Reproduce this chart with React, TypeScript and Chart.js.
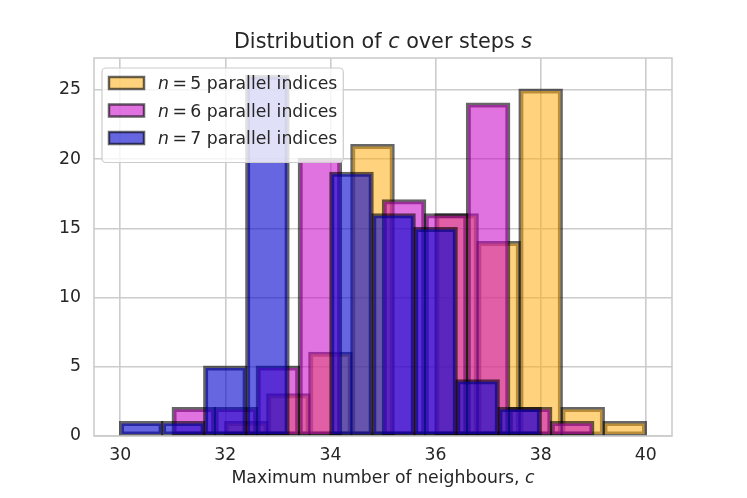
import { useEffect, useRef } from "react";
import { Chart, registerables } from "chart.js";

Chart.register(...registerables);

// observed max-neighbour values c and how many steps hit each one
const neighbourValuesN5 = [32, 33, 34, 35, 36, 37, 38, 39, 40];
const stepCountsN5 = [1, 3, 6, 21, 16, 14, 25, 2, 1];
const neighbourValuesN6 = [31, 32, 33, 34, 35, 36, 37, 38, 39];
const stepCountsN6 = [2, 2, 5, 20, 17, 16, 24, 2, 1];
const neighbourValuesN7 = [30, 31, 32, 33, 34, 35, 36, 37, 38];
const stepCountsN7 = [1, 1, 5, 26, 19, 16, 15, 4, 2];
const parallelIndices = ["5", "6", "7"];

const binCount = 10;
const xTickStep = 2;
const yTickStep = 5;

const FONT = "'DejaVu Sans'";
const TEXT = "#262626";
const GRID = "#cccccc";
const EDGE = "rgba(0, 0, 0, 0.6)";
const fills = ["rgba(255, 175, 20, 0.55)", "rgba(200, 0, 200, 0.55)", "rgba(0, 0, 205, 0.6)"];

// same binning as matplotlib's hist: 10 equal bins between min and max
const histogram = (values: number[], counts: number[]) => {
  const lo = Math.min(...values);
  const hi = Math.max(...values);
  const width = (hi - lo) / binCount;
  const bins = new Array(binCount).fill(0);
  values.forEach((v, i) => {
    const k = Math.min(Math.floor(((v - lo) * binCount) / (hi - lo) + 1e-9), binCount - 1);
    bins[k] += counts[i];
  });
  return bins.map((c, k) => ({ x: lo + (k + 0.5) * width, y: c })).filter((p) => p.y > 0);
};

type Part = [string, boolean];

const drawRich = (ctx: CanvasRenderingContext2D, parts: Part[], x: number, y: number, size: number, center: boolean) => {
  const fontOf = (it: boolean) => `${it ? "italic " : ""}${size}px ${FONT}`;
  let total = 0;
  parts.forEach(([t, it]) => {
    ctx.font = fontOf(it);
    total += ctx.measureText(t).width;
  });
  let cx = center ? x - total / 2 : x;
  ctx.textAlign = "left";
  ctx.textBaseline = "alphabetic";
  ctx.fillStyle = TEXT;
  parts.forEach(([t, it]) => {
    ctx.font = fontOf(it);
    ctx.fillText(t, cx, y);
    cx += ctx.measureText(t).width;
  });
  return total;
};

const decorPlugin = {
  id: "decor",
  afterDatasetsDraw(chart: any) {
    const { ctx, chartArea: a } = chart;
    ctx.save();
    // axes frame
    ctx.strokeStyle = GRID;
    ctx.lineWidth = 1.6;
    ctx.strokeRect(a.left, a.top, a.right - a.left, a.bottom - a.top);

    // legend
    const size = 17.3;
    const x0 = a.left + 8;
    const y0 = a.top + 10;
    const rowH = 27.5;
    ctx.font = `${size}px ${FONT}`;
    const textW = ctx.measureText("n\u2009=\u20095 parallel indices").width;
    const w = 56 + textW + 6;
    const h = 16 + rowH * parallelIndices.length - 4;
    ctx.beginPath();
    ctx.roundRect(x0, y0, w, h, 4);
    ctx.fillStyle = "rgba(255, 255, 255, 0.8)";
    ctx.fill();
    ctx.strokeStyle = GRID;
    ctx.lineWidth = 1.2;
    ctx.stroke();
    parallelIndices.forEach((n, i) => {
      const cy = y0 + 15 + i * rowH;
      ctx.fillStyle = fills[i];
      ctx.fillRect(x0 + 7, cy - 6, 35, 12);
      ctx.strokeStyle = EDGE;
      ctx.lineWidth = 2.5;
      ctx.strokeRect(x0 + 7, cy - 6, 35, 12);
      drawRich(ctx, [["n", true], [`\u2009=\u2009${n} parallel indices`, false]], x0 + 56, cy + 6, size, false);
    });

    // title and x label
    const mid = (a.left + a.right) / 2;
    drawRich(ctx, [["Distribution of ", false], ["c", true], [" over steps ", false], ["s", true]], mid, a.top - 10, 20.75, true);
    drawRich(ctx, [["Maximum number of neighbours, ", false], ["c", true]], mid, a.bottom + 47, 17.3, true);
    ctx.restore();
  },
};

const App = () => {
  const chartRef = useRef<HTMLCanvasElement | null>(null);

  useEffect(() => {
    document.body.style.margin = "0";
    if (!chartRef.current) return;

    const allValues = [...neighbourValuesN5, ...neighbourValuesN6, ...neighbourValuesN7];
    const lo = Math.min(...allValues);
    const hi = Math.max(...allValues);
    const xMin = lo - (hi - lo) * 0.05;
    const xMax = hi + (hi - lo) * 0.05;
    const allCounts = [
      ...histogram(neighbourValuesN5, stepCountsN5),
      ...histogram(neighbourValuesN6, stepCountsN6),
      ...histogram(neighbourValuesN7, stepCountsN7),
    ].map((p) => p.y);
    const yMax = Math.max(...allCounts) * 1.05;

    const xAxis = (display: boolean) => ({
      type: "linear" as const,
      display,
      min: xMin,
      max: xMax,
      offset: false,
      border: { display: false },
      grid: { color: GRID, lineWidth: 1.6, drawTicks: false, offset: false },
      ticks: {
        stepSize: xTickStep,
        includeBounds: false,
        padding: 9,
        color: TEXT,
        font: { family: FONT, size: 17.3 },
      },
      afterFit: (s: any) => {
        if (display) s.height = 62;
      },
    });

    const bar = (i: number, data: { x: number; y: number }[], axis: string) => ({
      label: `n = ${parallelIndices[i]} parallel indices`,
      data,
      xAxisID: axis,
      backgroundColor: fills[i],
      borderColor: EDGE,
      borderWidth: 2.5,
      borderSkipped: false,
      inflateAmount: 1.25,
      grouped: false,
      barPercentage: 1,
      categoryPercentage: 1,
      order: 3 - i,
    });

    const chartInstance = new Chart(chartRef.current, {
      type: "bar",
      data: {
        datasets: [
          bar(0, histogram(neighbourValuesN5, stepCountsN5), "x"),
          bar(1, histogram(neighbourValuesN6, stepCountsN6), "x6"),
          bar(2, histogram(neighbourValuesN7, stepCountsN7), "x7"),
        ],
      },
      options: {
        responsive: false,
        animation: false,
        layout: { padding: { top: 58, right: 75, left: 0, bottom: 0 } },
        plugins: { legend: { display: false }, tooltip: { enabled: false }, title: { display: false } },
        scales: {
          x: xAxis(true),
          x6: xAxis(false),
          x7: xAxis(false),
          y: {
            type: "linear",
            min: 0,
            max: yMax,
            border: { display: false },
            grid: { color: GRID, lineWidth: 1.6, drawTicks: false },
            ticks: {
              stepSize: yTickStep,
              includeBounds: false,
              padding: 13,
              color: TEXT,
              font: { family: FONT, size: 17.3 },
            },
            afterFit: (s: any) => {
              s.width = 94;
            },
          },
        },
      } as any,
      plugins: [decorPlugin],
    });

    return () => {
      chartInstance.destroy();
    };
  }, []);

  return (
    <div style={{ width: 747, height: 498, background: "#ffffff" }}>
      <canvas ref={chartRef} width={747} height={498} style={{ display: "block" }} />
    </div>
  );
};

export default App;
